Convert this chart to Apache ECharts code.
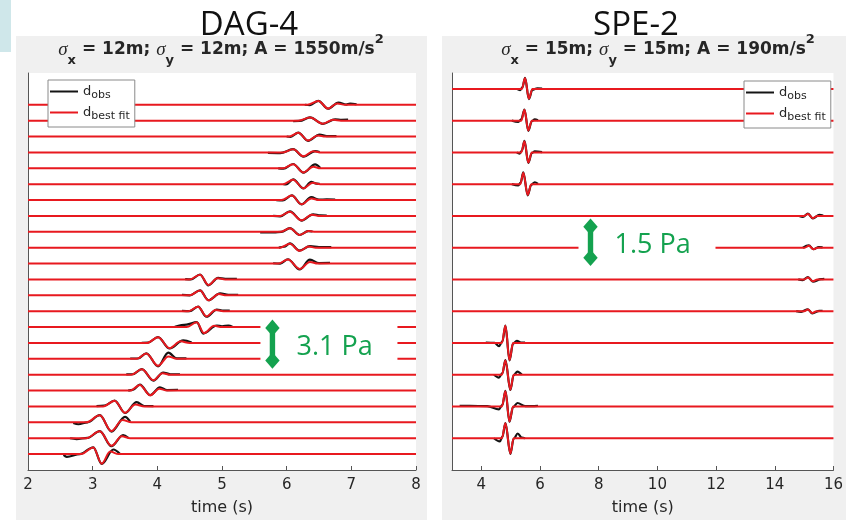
<!DOCTYPE html>
<html>
<head>
<meta charset="utf-8">
<script src="https://cdn.jsdelivr.net/npm/echarts@6/dist/echarts.min.js"></script>
<style>
  html, body { margin: 0; padding: 0; background: #fff; }
  #chart { width: 846px; height: 521px; }
</style>
</head>
<body>
<div id="chart"></div>
<script>
// Pressure traces, listed from the top trace down. Each point is [time (s), pressure (Pa)]
// relative to the trace's own baseline; consecutive baselines are 1 Pa apart.

// DAG-4 observed records (23 stations)
const dagObs = [
  [[6.28,0],[6.36,-0.03],[6.49,0.25],[6.64,-0.25],[6.80,0.14],[6.92,0.01],[6.98,0.08],[7.08,0.02]],
  [[6.10,-0.03],[6.20,-0.02],[6.36,0.20],[6.56,-0.20],[6.75,0.08],[6.85,0.05],[6.95,0.06]],
  [[6.00,0],[6.06,-0.03],[6.18,0.25],[6.33,-0.27],[6.51,0.12],[6.62,0.03],[6.77,0.03]],
  [[5.71,-0.03],[5.90,-0.04],[6.10,0.20],[6.26,-0.27],[6.44,0.08],[6.51,0.02]],
  [[5.87,0],[5.95,-0.02],[6.10,0.27],[6.26,-0.27],[6.44,0.25],[6.52,0.02]],
  [[5.95,0],[5.99,-0.02],[6.10,0.30],[6.26,-0.27],[6.38,0.14],[6.46,0.03],[6.51,0.02]],
  [[5.84,0],[5.94,-0.03],[6.08,0.29],[6.23,-0.27],[6.38,0.18],[6.50,0.02],[6.62,0.04],[6.75,0.03]],
  [[5.79,0],[5.90,-0.03],[6.05,0.29],[6.23,-0.29],[6.41,0.10],[6.52,0.03],[6.62,0.02]],
  [[5.59,-0.04],[5.80,-0.04],[5.92,0.00],[6.05,0.23],[6.20,-0.20],[6.33,0.04],[6.40,0.02]],
  [[5.88,0],[5.96,0.06],[6.05,0.27],[6.20,-0.19],[6.36,0.10],[6.50,0.04],[6.69,0.04]],
  [[5.79,0.02],[5.90,0.00],[6.02,0.27],[6.20,-0.37],[6.36,0.25],[6.50,0.03],[6.67,0.04]],
  [[4.43,0.02],[4.52,0.00],[4.66,0.31],[4.79,-0.37],[4.94,0.10],[5.05,0.04],[5.23,0.04]],
  [[4.38,0.03],[4.50,0.00],[4.66,0.31],[4.79,-0.31],[4.97,0.12],[5.10,0.03],[5.25,0.03]],
  [[4.38,0.02],[4.50,0.00],[4.63,0.29],[4.76,-0.35],[4.92,0.10],[5.02,0.03],[5.12,0.03]],
  [[4.27,0.02],[4.45,0.16],[4.61,0.31],[4.71,-0.41],[4.92,0.10],[5.00,0.05],[5.10,0.10],[5.16,0.02]],
  [[3.76,0],[3.86,0.03],[4.01,0.37],[4.19,-0.35],[4.40,0.16],[4.53,0.02]],
  [[3.58,0.02],[3.70,0.02],[3.83,0.35],[4.01,-0.47],[4.17,0.39],[4.30,0.03],[4.45,0.03]],
  [[3.52,0.02],[3.62,0.03],[3.76,0.35],[3.94,-0.37],[4.09,0.14],[4.20,0.03],[4.35,0.03]],
  [[3.55,0],[3.62,0.04],[3.73,0.37],[3.89,-0.29],[4.04,0.20],[4.15,0.03],[4.32,0.04]],
  [[3.06,0.02],[3.18,0.06],[3.34,0.37],[3.50,-0.41],[3.68,0.27],[3.80,0.03],[3.94,0.02]],
  [[2.70,-0.04],[2.78,-0.12],[2.92,0.00],[3.11,0.45],[3.29,-0.58],[3.50,0.35],[3.58,0.05]],
  [[2.65,0.00],[2.75,-0.05],[2.92,0.02],[3.11,0.45],[3.29,-0.50],[3.47,0.20],[3.55,0.03]],
  [[2.55,-0.05],[2.60,-0.17],[2.80,0.00],[3.01,0.43],[3.14,-0.62],[3.32,0.29],[3.42,0.02]]
];

// DAG-4 best-fit synthetics (wavelet part; zero elsewhere)
const dagFit = [
  [[6.32,0],[6.49,0.24],[6.64,-0.24],[6.78,0.08],[6.90,0]],
  [[6.18,0],[6.36,0.19],[6.56,-0.19],[6.72,0.06],[6.84,0]],
  [[6.04,0],[6.18,0.24],[6.33,-0.25],[6.48,0.07],[6.60,0]],
  [[5.94,0],[6.10,0.20],[6.26,-0.25],[6.41,0.07],[6.52,0]],
  [[5.94,0],[6.10,0.25],[6.26,-0.26],[6.41,0.10],[6.52,0]],
  [[5.95,0],[6.10,0.28],[6.26,-0.26],[6.40,0.09],[6.52,0]],
  [[5.92,0],[6.08,0.28],[6.23,-0.27],[6.38,0.10],[6.50,0]],
  [[5.90,0],[6.05,0.27],[6.23,-0.28],[6.39,0.08],[6.50,0]],
  [[5.90,0],[6.05,0.22],[6.20,-0.20],[6.34,0.05],[6.45,0]],
  [[5.90,0],[6.05,0.25],[6.20,-0.20],[6.34,0.07],[6.45,0]],
  [[5.87,0],[6.02,0.26],[6.20,-0.34],[6.36,0.10],[6.48,0]],
  [[4.50,0],[4.66,0.30],[4.79,-0.35],[4.93,0.08],[5.05,0]],
  [[4.50,0],[4.66,0.30],[4.79,-0.31],[4.95,0.08],[5.07,0]],
  [[4.48,0],[4.63,0.28],[4.76,-0.33],[4.90,0.08],[5.02,0]],
  [[4.45,0],[4.61,0.30],[4.72,-0.38],[4.88,0.08],[5.00,0]],
  [[3.84,0],[4.01,0.36],[4.19,-0.33],[4.36,0.10],[4.50,0]],
  [[3.68,0],[3.83,0.34],[4.01,-0.44],[4.17,0.15],[4.30,0]],
  [[3.60,0],[3.76,0.34],[3.94,-0.35],[4.08,0.10],[4.20,0]],
  [[3.58,0],[3.73,0.36],[3.89,-0.30],[4.03,0.12],[4.15,0]],
  [[3.16,0],[3.34,0.36],[3.50,-0.40],[3.66,0.12],[3.80,0]],
  [[2.90,0],[3.11,0.44],[3.29,-0.55],[3.46,0.15],[3.60,0]],
  [[2.90,0],[3.11,0.44],[3.29,-0.48],[3.45,0.12],[3.58,0]],
  [[2.82,0],[3.01,0.42],[3.14,-0.60],[3.27,0.16],[3.40,0]]
];

// SPE-2 observed records (12 stations)
const speObs = [
  [[5.21,0],[5.32,-0.04],[5.40,0.05],[5.49,0.35],[5.62,-0.32],[5.74,-0.03],[5.91,0.02],[6.07,0.01]],
  [[5.04,0],[5.26,-0.04],[5.36,0.04],[5.47,0.35],[5.60,-0.32],[5.72,-0.02],[5.82,0.04],[5.93,0.01]],
  [[5.21,0],[5.30,-0.04],[5.38,0.05],[5.47,0.36],[5.60,-0.33],[5.72,-0.02],[5.82,0.03],[6.07,0.01]],
  [[5.04,0],[5.26,-0.04],[5.34,0.05],[5.43,0.37],[5.58,-0.35],[5.70,-0.02],[5.82,0.06],[5.93,0.01]],
  [[14.83,0],[14.96,-0.03],[15.13,0.07],[15.30,-0.08],[15.52,0.03],[15.65,0.01]],
  [[14.96,0],[15.16,0.07],[15.32,-0.05],[15.50,0.02],[15.63,0.01]],
  [[14.80,0],[14.95,-0.02],[15.13,0.07],[15.30,-0.07],[15.58,0.01],[15.69,0.02]],
  [[14.73,0],[14.90,-0.02],[15.13,0.06],[15.28,-0.07],[15.52,0.01],[15.63,0.01]],
  [[4.15,0.01],[4.45,0.00],[4.60,-0.10],[4.72,0.05],[4.82,0.55],[4.96,-0.55],[5.08,-0.02],[5.21,0.07],[5.35,0.01],[5.49,0.01]],
  [[4.43,0],[4.60,-0.09],[4.72,0.05],[4.82,0.46],[4.99,-0.48],[5.10,-0.02],[5.23,0.10],[5.38,0.00]],
  [[3.26,0.02],[3.60,0.02],[4.20,0.01],[4.60,-0.09],[4.72,0.05],[4.82,0.49],[4.96,-0.48],[5.08,-0.02],[5.23,0.11],[5.50,0.01],[5.93,0.02]],
  [[4.43,0],[4.63,-0.10],[4.72,0.05],[4.82,0.48],[4.99,-0.49],[5.10,-0.02],[5.24,0.15],[5.38,0.02],[5.49,0.00]]
];

// SPE-2 best-fit synthetics
const speFit = [
  [[5.38,0],[5.49,0.34],[5.62,-0.31],[5.74,0]],
  [[5.36,0],[5.47,0.34],[5.60,-0.31],[5.72,0]],
  [[5.36,0],[5.47,0.35],[5.60,-0.32],[5.72,0]],
  [[5.33,0],[5.43,0.36],[5.58,-0.34],[5.70,0]],
  [[15.00,0],[15.13,0.06],[15.30,-0.07],[15.45,0]],
  [[15.02,0],[15.16,0.06],[15.32,-0.05],[15.46,0]],
  [[15.00,0],[15.13,0.06],[15.30,-0.06],[15.45,0]],
  [[15.00,0],[15.13,0.05],[15.28,-0.06],[15.42,0]],
  [[4.70,0],[4.82,0.54],[4.96,-0.54],[5.08,0]],
  [[4.70,0],[4.82,0.45],[4.99,-0.47],[5.10,0]],
  [[4.70,0],[4.82,0.48],[4.96,-0.47],[5.08,0]],
  [[4.70,0],[4.82,0.47],[4.99,-0.48],[5.10,0]]
];

// Axis ranges and tick labels
const dagTimeRange = [2, 8];
const speTimeRange = [3, 16];
const speTickValues = [4, 6, 8, 10, 12, 14, 16];

// Amplitude scale bars: time position, lower end (Pa) and length (Pa)
const scaleBarTime = [5.78, 7.72];
const scaleBarBase = [6.37, 6.42];
const scaleBarPa = [3.1, 1.5];

// Panel headings and fitted source parameters
const panelNames = ['DAG-4', 'SPE-2'];
const sigmaX = ['12m', '15m'];
const sigmaY = ['12m', '15m'];
const sourceAmp = ['1550m/s', '190m/s'];

const RED = '#e8191f';
const BLACK = '#141414';
const GREEN = '#14a24f';
const TEXT = '#262626';

function traceSeries(obs, fit, k, tRange) {
  const list = [];
  const n = obs.length;
  obs.forEach((tr, i) => {
    const base = n - i;
    list.push({
      name: 'd_obs', type: 'line', xAxisIndex: k, yAxisIndex: k,
      data: tr.map(p => [p[0], base + p[1]]),
      smooth: 0.35, smoothMonotone: 'x', symbol: 'none', z: 2, silent: true,
      color: BLACK, lineStyle: { color: BLACK, width: 2.2 }
    });
  });
  fit.forEach((tr, i) => {
    const base = n - i;
    const pts = [[tRange[0], base]].concat(tr.map(p => [p[0], base + p[1]]), [[tRange[1], base]]);
    list.push({
      name: 'd_best fit', type: 'line', xAxisIndex: k, yAxisIndex: k,
      data: pts,
      smooth: 0.35, smoothMonotone: 'x', symbol: 'none', z: 3, silent: true,
      color: RED, lineStyle: { color: RED, width: 2 }
    });
  });
  return list;
}

// Double-headed amplitude bar with its value label, on a white patch
function scaleBarSeries(k) {
  return {
    type: 'custom', xAxisIndex: k, yAxisIndex: k, z: 6, silent: true,
    data: [[scaleBarTime[k], scaleBarBase[k], scaleBarBase[k] + scaleBarPa[k], scaleBarPa[k]]],
    renderItem(params, api) {
      const lo = api.coord([api.value(0), api.value(1)]);
      const hi = api.coord([api.value(0), api.value(2)]);
      const x = lo[0], yTop = hi[1], yBot = lo[1];
      const dh = 8.3, dw = 7.2;
      return {
        type: 'group',
        children: [
          { type: 'rect', shape: { x: x - 12, y: yTop, width: 137, height: yBot - yTop }, style: { fill: '#fff' } },
          { type: 'rect', shape: { x: x - 2.7, y: yTop + dh, width: 5.4, height: yBot - yTop - 2 * dh }, style: { fill: GREEN } },
          { type: 'polygon', shape: { points: [[x, yTop], [x + dw, yTop + dh], [x, yTop + 2 * dh], [x - dw, yTop + dh]] }, style: { fill: GREEN } },
          { type: 'polygon', shape: { points: [[x, yBot], [x + dw, yBot - dh], [x, yBot - 2 * dh], [x - dw, yBot - dh]] }, style: { fill: GREEN } },
          { type: 'text', x: x + 24, y: (yTop + yBot) / 2 + 3,
            style: { text: api.value(3).toFixed(1) + ' Pa', fill: GREEN, font: '27px "Open Sans"', align: 'left', verticalAlign: 'middle' } }
        ]
      };
    }
  };
}

function xAxis(k, range, customTicks) {
  const ax = {
    type: 'value', gridIndex: k, min: range[0], max: range[1],
    axisLine: { show: true, onZero: false, lineStyle: { color: '#555', width: 1 } },
    axisTick: { show: true, inside: true, length: 4, lineStyle: { color: '#555' } },
    axisLabel: { color: TEXT, fontSize: 15, fontFamily: 'DejaVu Sans', margin: 8 },
    splitLine: { show: false },
    name: 'time (s)', nameLocation: 'middle', nameGap: 30,
    nameTextStyle: { color: TEXT, fontSize: 16, fontFamily: 'DejaVu Sans' }
  };
  if (customTicks) {
    ax.axisTick.customValues = customTicks;
    ax.axisLabel.customValues = customTicks;
  } else {
    ax.interval = 1;
  }
  return ax;
}

function yAxis(k, max) {
  return {
    type: 'value', gridIndex: k, min: 0, max: max,
    axisLine: { show: true, onZero: false, lineStyle: { color: '#555', width: 1 } },
    axisTick: { show: false }, axisLabel: { show: false }, splitLine: { show: false }
  };
}

function legend(left, top) {
  return {
    left: left, top: top, orient: 'vertical',
    data: ['d_obs', 'd_best fit'],
    icon: 'rect', itemWidth: 28, itemHeight: 2, itemGap: 5,
    backgroundColor: '#fff', borderColor: '#8a8a8a', borderWidth: 1, borderRadius: 0,
    padding: [5, 5, 5, 2], selectedMode: false,
    formatter: name => '{d|d}{s|' + name.slice(2) + '}',
    textStyle: {
      color: TEXT,
      rich: {
        d: { fontSize: 13, fontFamily: 'DejaVu Sans', lineHeight: 19, verticalAlign: 'middle', color: TEXT },
        s: { fontSize: 11, fontFamily: 'DejaVu Sans', lineHeight: 10, verticalAlign: 'bottom', color: TEXT }
      }
    }
  };
}

function subtitle(k, cx) {
  return {
    type: 'text', x: cx, y: 50, z: 1, silent: true,
    style: {
      text: '{g|σ}{sb|x}{b| = ' + sigmaX[k] + '; }{g|σ}{sb|y}{b| = ' + sigmaY[k] + '; A = ' + sourceAmp[k] + '}{sp|2}',
      align: 'center', verticalAlign: 'middle',
      rich: {
        g: { fontSize: 19, fontStyle: 'italic', fontFamily: 'Liberation Serif', fill: TEXT, lineHeight: 34, verticalAlign: 'middle' },
        b: { fontSize: 17, fontWeight: 'bold', fontFamily: 'DejaVu Sans', fill: TEXT, lineHeight: 34, verticalAlign: 'middle' },
        sb: { fontSize: 13, fontWeight: 'bold', fontFamily: 'DejaVu Sans', fill: TEXT, lineHeight: 13, verticalAlign: 'bottom' },
        sp: { fontSize: 13, fontWeight: 'bold', fontFamily: 'DejaVu Sans', fill: TEXT, lineHeight: 21, verticalAlign: 'top' }
      }
    }
  };
}

const chart = echarts.init(document.getElementById('chart'), null, { renderer: 'canvas' });

chart.setOption({
  animation: false,
  backgroundColor: '#fff',
  grid: [
    { left: 28, top: 73, width: 388, height: 404, show: true, backgroundColor: '#fff', borderWidth: 0 },
    { left: 452, top: 73, width: 388, height: 404, show: true, backgroundColor: '#fff', borderWidth: 0 }
  ],
  xAxis: [xAxis(0, dagTimeRange, null), xAxis(1, speTimeRange, speTickValues)],
  yAxis: [yAxis(0, dagObs.length + 2), yAxis(1, speObs.length + 0.5)],
  legend: [legend(48, 80), legend(744, 81)],
  graphic: [
    { type: 'rect', z: -5, silent: true, shape: { x: 0, y: 0, width: 11, height: 52 }, style: { fill: '#cfe7ea' } },
    { type: 'rect', z: -5, silent: true, shape: { x: 16, y: 36, width: 411, height: 484 }, style: { fill: '#f0f0f0' } },
    { type: 'rect', z: -5, silent: true, shape: { x: 442, y: 36, width: 404, height: 484 }, style: { fill: '#f0f0f0' } },
    { type: 'text', x: 249, y: 26, z: 1, silent: true,
      style: { text: panelNames[0], font: '33px "Open Sans"', fill: '#111', align: 'center', verticalAlign: 'middle' } },
    { type: 'text', x: 636, y: 26, z: 1, silent: true,
      style: { text: panelNames[1], font: '33px "Open Sans"', fill: '#111', align: 'center', verticalAlign: 'middle' } },
    subtitle(0, 221),
    subtitle(1, 658)
  ],
  series: [].concat(
    traceSeries(dagObs, dagFit, 0, dagTimeRange),
    traceSeries(speObs, speFit, 1, speTimeRange),
    [scaleBarSeries(0), scaleBarSeries(1)]
  )
});
</script>
</body>
</html>
